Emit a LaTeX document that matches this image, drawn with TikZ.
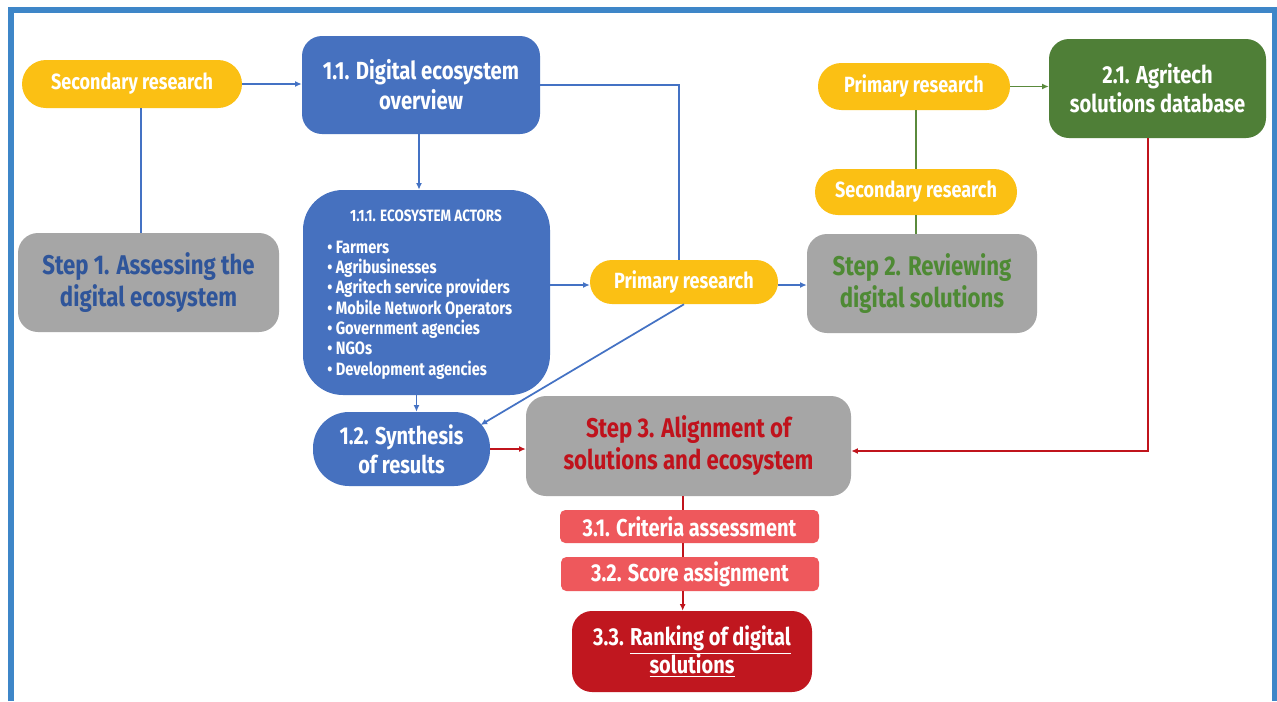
\documentclass[tikz,border=0pt]{standalone}
\usepackage{fontspec}
\setmainfont{Fira Sans}[FakeStretch=0.82]
\usetikzlibrary{arrows.meta,calc}
\definecolor{frameblue}{HTML}{3E86C8}
\definecolor{boxblue}{HTML}{4671BF}
\definecolor{ycol}{HTML}{FBC014}
\definecolor{gbox}{HTML}{A6A6A6}
\definecolor{stepblue}{HTML}{2F559A}
\definecolor{stepgreen}{HTML}{4E8A34}
\definecolor{stepred}{HTML}{C0121C}
\definecolor{darkgreen}{HTML}{4F7F37}
\definecolor{lightred}{HTML}{EE585C}
\definecolor{darkred}{HTML}{C0171F}
\definecolor{lblue}{HTML}{4472C4}
\definecolor{lred}{HTML}{C0141C}
\definecolor{lgreen}{HTML}{5A8A3C}
\tikzset{
  ypill/.style={fill=ycol, text=white, inner sep=0pt, align=center,
    font=\bfseries\fontsize{16.5}{18}\selectfont},
  bluebox/.style={fill=boxblue, text=white, inner sep=0pt, align=center, rounded corners=15pt},
  graybox/.style={fill=gbox, inner sep=0pt, align=center, rounded corners=15pt,
    font=\bfseries\fontsize{20.3}{24}\selectfont},
  redbar/.style={fill=lightred, text=white, inner sep=0pt, rounded corners=4pt,
    font=\bfseries\fontsize{18.3}{20}\selectfont},
  bconn/.style={draw=lblue, line width=1.3pt},
  rconn/.style={draw=lred, line width=1.3pt},
  gconn/.style={draw=lgreen, line width=1.3pt},
  tip/.style={-{Latex[length=5pt,width=4.5pt]}},
}
\begin{document}
\begin{tikzpicture}[x=0.75pt,y=-0.75pt]
\useasboundingbox (0,0) rectangle (1277,701);
\fill[white] (0,0) rectangle (1277,701);
\draw[frameblue, line width=4.5pt] (11,701) -- (11,10) -- (1274.5,10) -- (1274.5,701);

% Step 1 column
\node[ypill, minimum width=165pt, minimum height=36pt, rounded corners=18pt] (secL) at (132,84) {Secondary research};
\node[bluebox, minimum width=178.5pt, minimum height=73.5pt, font=\bfseries\fontsize{18.6}{22.5}\selectfont] (b11) at (421,85) {1.1. Digital ecosystem\\overview};
\node[graybox, text=stepblue, minimum width=195.75pt, minimum height=74.25pt] (step1) at (148.5,282.5) {Step 1. Assessing the\\digital ecosystem};
\node[bluebox, rounded corners=30pt, minimum width=185.25pt, minimum height=153.75pt] (actors) at (426.5,292.5) {};
\node[text=white, inner sep=0pt, anchor=base, font=\bfseries\fontsize{12.3}{14}\selectfont] (actT) at (426,221) {1.1.1. ECOSYSTEM ACTORS};
\node[text=white, inner sep=0pt, anchor=base west, align=left, font=\bfseries\fontsize{13.4}{15.2}\selectfont] (actL) at (327,375) {• Farmers\\• Agribusinesses\\• Agritech service providers\\• Mobile Network Operators\\• Government agencies\\• NGOs\\• Development agencies};
\node[ypill, minimum width=141pt, minimum height=33pt, rounded corners=16.5pt] (primM) at (684,282) {Primary research};
\node[bluebox, rounded corners=27pt, minimum width=132.75pt, minimum height=55.5pt, font=\bfseries\fontsize{18.3}{21.5}\selectfont] (b12) at (401.5,449) {1.2. Synthesis\\of results};

% Step 2 column
\node[ypill, minimum width=144pt, minimum height=35.25pt, rounded corners=17.5pt] (primR) at (914,86.5) {Primary research};
\node[ypill, minimum width=151.5pt, minimum height=34.5pt, rounded corners=17.2pt] (secR) at (916,192) {Secondary research};
\node[graybox, text=stepgreen, minimum width=172.5pt, minimum height=74.25pt] (step2) at (922,283.5) {Step 2. Reviewing\\digital solutions};
\node[fill=darkgreen, text=white, inner sep=0pt, align=center, rounded corners=15pt, minimum width=162.75pt, minimum height=74.25pt, font=\bfseries\fontsize{18.4}{21.5}\selectfont] (b21) at (1157.5,88.5) {2.1. Agritech\\solutions database};

% Step 3 column
\node[graybox, text=stepred, minimum width=243.75pt, minimum height=75pt] (step3) at (688.5,446) {Step 3. Alignment of\\solutions and ecosystem};
\node[redbar, minimum width=194.25pt, minimum height=24.75pt] (crit) at (689.5,526.5) {3.1. Criteria assessment};
\node[redbar, minimum width=193.5pt, minimum height=25.5pt] (score) at (690,574) {3.2. Score assignment};
\node[fill=darkred, text=white, inner sep=0pt, align=center, rounded corners=15pt, minimum width=180pt, minimum height=60.75pt, font=\bfseries\fontsize{18.3}{21}\selectfont] (b33) at (692,651.5) {3.3. \underline{Ranking of digital}\\\underline{solutions}};

% connectors: blue
\draw[bconn] ([xshift=6.75pt]secL.south) -- ([xshift=6.75pt]secL.south |- step1.north);
\draw[bconn, tip] (secL.east) -- (secL.east -| b11.west);
\draw[bconn, tip] ([xshift=-1.5pt]b11.south) -- ([xshift=-1.5pt]b11.south |- actors.north);
\draw[bconn] (b11.east) -| ([xshift=-3.75pt]primM.north);
\draw[bconn, tip] (actors.east |- 0,285) -- (primM.west |- 0,285);
\draw[bconn, tip] (primM.east |- 0,285) -- (step2.west |- 0,285);
\draw[bconn, tip] (primM.south) -- ($(b12.center)+(79,-24)$);
\draw[bconn, tip] ([xshift=-7.5pt]actors.south) -- ([xshift=-7.5pt]actors.south |- b12.north);

% green
\draw[gconn] (primR.south -| secR.north) -- (secR.north);
\draw[gconn] (secR.south) -- (secR.south |- step2.north);
\draw[gconn, tip] (primR.east) -- (primR.east -| b21.west);

% red
\draw[rconn, tip] (b12.east) -- (b12.east -| step3.west);
\draw[rconn, tip] ([xshift=-7pt]b21.south) |- (step3.east |- 0,451);
\draw[rconn] ([xshift=-4pt]step3.south) -- ([xshift=-4pt]step3.south |- crit.north);
\draw[rconn] ([xshift=-5pt]crit.south) -- ([xshift=-5pt]crit.south |- score.north);
\draw[rconn, tip] ([xshift=-5.5pt]score.south) -- ([xshift=-5.5pt]score.south |- b33.north);
\end{tikzpicture}
\end{document}
